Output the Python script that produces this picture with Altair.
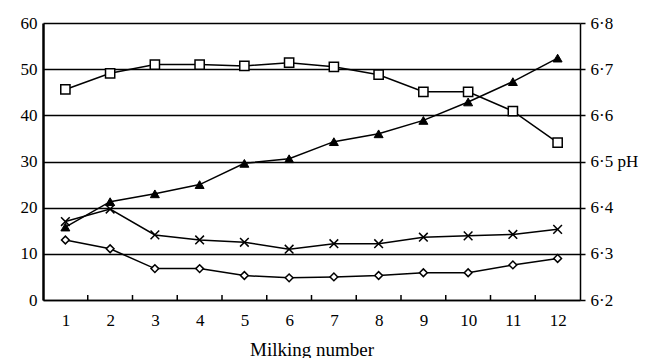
import altair as alt
import pandas as pd

milking = list(range(1, 13))
squares = [45.6, 49.1, 51.0, 51.0, 50.7, 51.4, 50.5, 48.8, 45.1, 45.1, 40.9, 34.1]
triangles = [15.8, 21.3, 23.0, 25.0, 29.6, 30.6, 34.3, 36.0, 38.9, 42.9, 47.3, 52.4]
crosses = [17.0, 19.7, 14.1, 13.0, 12.5, 11.0, 12.2, 12.2, 13.6, 13.9, 14.2, 15.3]
diamonds = [13.0, 11.1, 6.8, 6.8, 5.3, 4.8, 5.0, 5.3, 5.9, 5.9, 7.6, 9.0]
left_ticks = [0, 10, 20, 30, 40, 50, 60]
ph_ticks = [6.2, 6.3, 6.4, 6.5, 6.6, 6.7, 6.8]

FONT = "Liberation Serif"
LS = 17
W, H = 537, 277

df = pd.DataFrame({
    "m": milking, "sq": squares, "tri": triangles, "cr": crosses, "di": diamonds
})
bounds = pd.DataFrame({"b": [m + 0.5 for m in milking[:-1]]})
ph_df = pd.DataFrame({"ph": ph_ticks, "m": [milking[0]] * len(ph_ticks)})

xscale = alt.Scale(domain=[0.5, 12.5], nice=False, zero=False)
yscale = alt.Scale(domain=[0, 60], nice=False)

xaxis = alt.Axis(values=milking, title="Milking number", grid=False, ticks=False,
                 domainColor="black", domainWidth=1.5, labelFont=FONT, labelFontSize=LS,
                 labelColor="black", labelPadding=12, titleFont=FONT, titleFontSize=19,
                 titleFontWeight="normal", titleColor="black", titlePadding=12,
                 labelFlush=False)
yaxis = alt.Axis(values=left_ticks, title=None, grid=True, gridColor="black",
                 gridWidth=1.5, gridOpacity=1, ticks=False, domainColor="black",
                 domainWidth=2.5, labelFont=FONT, labelFontSize=LS, labelColor="black",
                 labelPadding=6)

def series(col, shape, fill, size, strokew=1.5):
    base = alt.Chart(df).encode(
        x=alt.X("m:Q", scale=xscale, axis=xaxis),
        y=alt.Y(f"{col}:Q", scale=yscale, axis=yaxis),
    )
    line = base.mark_line(color="black", strokeWidth=1.5)
    pt = base.mark_point(shape=shape, filled=True, fill=fill, stroke="black",
                         strokeWidth=strokew, size=size, opacity=1)
    return [line, pt]

layers = []
layers += series("sq", "square", "white", 85)
layers += series("tri", "triangle-up", "black", 80, 1)
layers += series("cr", "M-1,-1L1,1M-1,1L1,-1", "transparent", 75)
layers += series("di", "diamond", "white", 60)

tick_rules = alt.Chart(bounds).mark_rule(color="black", strokeWidth=1.5).encode(
    x=alt.X("b:Q", scale=xscale, axis=xaxis),
    y=alt.value(H),
    y2=alt.value(H - 5),
)

left = alt.layer(*layers, tick_rules)

right = alt.Chart(ph_df).mark_point(opacity=0).encode(
    x=alt.X("m:Q", scale=xscale, axis=xaxis),
    y=alt.Y("ph:Q", scale=alt.Scale(domain=[6.2, 6.8], nice=False, zero=False),
            axis=alt.Axis(orient="right", values=ph_ticks, title=None, grid=False,
                          ticks=True, tickSize=5, tickColor="black", tickWidth=1.5,
                          domainColor="black", domainWidth=1.5,
                          labelFont=FONT, labelFontSize=LS, labelColor="black",
                          labelPadding=5,
                          labelExpr="replace(format(datum.value, '.1f'), '.', '·') + (abs(datum.value - 6.5) < 0.01 ? ' pH' : '')")),
)

chart = alt.layer(left, right).resolve_scale(y="independent").properties(
    width=W, height=H,
    autosize=alt.AutoSizeParams(type="none"),
    padding={"left": 35, "top": 15, "right": 65, "bottom": 58},
    background="white",
).configure_view(stroke=None)

chart.save("out.html", embed_options={"renderer": "svg", "actions": False})
